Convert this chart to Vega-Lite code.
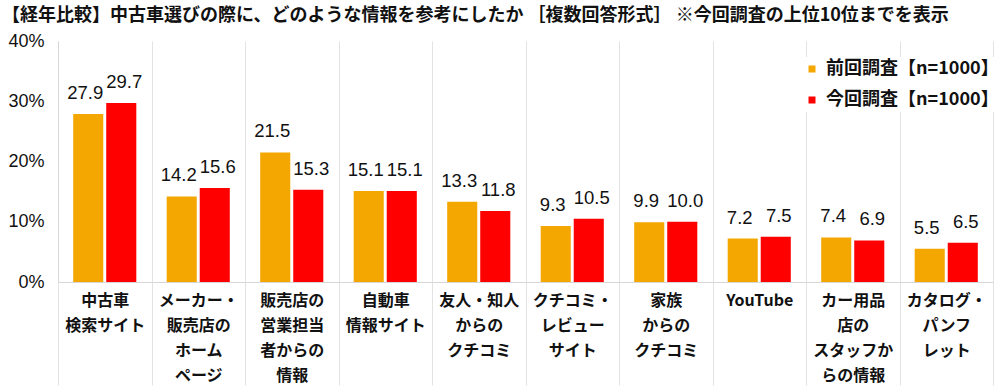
{
  "$schema": "https://vega.github.io/schema/vega-lite/v6.json",
  "width": 935,
  "height": 241,
  "autosize": {"type": "none"},
  "padding": {"left": 58, "top": 41, "right": 7, "bottom": 108},
  "background": "white",
  "config": {"view": {"stroke": null}},
  "title": {
    "text": "【経年比較】中古車選びの際に、どのような情報を参考にしたか ［複数回答形式］ ※今回調査の上位10位までを表示",
    "anchor": "start",
    "frame": "group",
    "dx": -56,
    "dy": 3,
    "font": "Noto Sans CJK JP",
    "fontSize": 18,
    "fontWeight": "bold",
    "color": "#111111",
    "offset": 10,
    "limit": 0
  },
  "data": {
    "values": [
      {"category": "中古車|検索サイト", "survey": "前回調査【n=1000】", "value": 27.9},
      {"category": "中古車|検索サイト", "survey": "今回調査【n=1000】", "value": 29.7},
      {"category": "メーカー・|販売店の|ホーム|ページ", "survey": "前回調査【n=1000】", "value": 14.2},
      {"category": "メーカー・|販売店の|ホーム|ページ", "survey": "今回調査【n=1000】", "value": 15.6},
      {"category": "販売店の|営業担当|者からの|情報", "survey": "前回調査【n=1000】", "value": 21.5},
      {"category": "販売店の|営業担当|者からの|情報", "survey": "今回調査【n=1000】", "value": 15.3},
      {"category": "自動車|情報サイト", "survey": "前回調査【n=1000】", "value": 15.1},
      {"category": "自動車|情報サイト", "survey": "今回調査【n=1000】", "value": 15.1},
      {"category": "友人・知人|からの|クチコミ", "survey": "前回調査【n=1000】", "value": 13.3},
      {"category": "友人・知人|からの|クチコミ", "survey": "今回調査【n=1000】", "value": 11.8},
      {"category": "クチコミ・|レビュー|サイト", "survey": "前回調査【n=1000】", "value": 9.3},
      {"category": "クチコミ・|レビュー|サイト", "survey": "今回調査【n=1000】", "value": 10.5},
      {"category": "家族|からの|クチコミ", "survey": "前回調査【n=1000】", "value": 9.9},
      {"category": "家族|からの|クチコミ", "survey": "今回調査【n=1000】", "value": 10.0},
      {"category": "YouTube", "survey": "前回調査【n=1000】", "value": 7.2},
      {"category": "YouTube", "survey": "今回調査【n=1000】", "value": 7.5},
      {"category": "カー用品|店の|スタッフか|らの情報", "survey": "前回調査【n=1000】", "value": 7.4},
      {"category": "カー用品|店の|スタッフか|らの情報", "survey": "今回調査【n=1000】", "value": 6.9},
      {"category": "カタログ・|パンフ|レット", "survey": "前回調査【n=1000】", "value": 5.5},
      {"category": "カタログ・|パンフ|レット", "survey": "今回調査【n=1000】", "value": 6.5}
    ]
  },
  "encoding": {
    "x": {
      "field": "category",
      "type": "nominal",
      "sort": null,
      "scale": {"paddingInner": 0, "paddingOuter": 0},
      "axis": {
        "title": null,
        "labelAngle": 0,
        "labelExpr": "split(datum.label, '|')",
        "labelFont": "Noto Sans CJK JP",
        "labelFontSize": 16,
        "labelFontWeight": "bold",
        "labelColor": "#111111",
        "labelLineHeight": 25,
        "labelBaseline": "top",
        "labelPadding": -93,
        "labelOverlap": false,
        "labelBound": false,
        "labelLimit": 0,
        "tickSize": 103,
        "tickColor": "#e3e3e3",
        "tickBand": "extent",
        "grid": true,
        "gridColor": "#e3e3e3",
        "domainColor": "#d6d6d6"
      }
    },
    "xOffset": {
      "field": "survey",
      "type": "nominal",
      "scale": {"domain": ["前回調査【n=1000】", "今回調査【n=1000】"], "paddingInner": 0.09, "paddingOuter": 0.46}
    },
    "y": {
      "field": "value",
      "type": "quantitative",
      "scale": {"domain": [0, 40], "nice": false},
      "axis": {
        "title": null,
        "values": [0, 10, 20, 30, 40],
        "labelExpr": "datum.value + '%'",
        "labelFont": "Liberation Sans",
        "labelFontSize": 18,
        "labelColor": "#111111",
        "labelPadding": 14,
        "ticks": false,
        "grid": false,
        "domainColor": "#d6d6d6"
      }
    }
  },
  "layer": [
    {
      "mark": {"type": "bar"},
      "encoding": {
        "color": {
          "field": "survey",
          "type": "nominal",
          "scale": {"domain": ["前回調査【n=1000】", "今回調査【n=1000】"], "range": ["#F4A700", "#FF0000"]},
          "legend": {
            "title": null,
            "orient": "none",
            "legendX": 742,
            "legendY": 16,
            "labelFont": "Noto Sans CJK JP",
            "labelFontSize": 18,
            "labelFontWeight": "bold",
            "labelColor": "#111111",
            "labelOffset": 5,
            "labelLimit": 0,
            "symbolType": "square",
            "symbolSize": 49,
            "symbolStrokeWidth": 0,
            "rowPadding": 13,
            "fillColor": "white",
            "padding": 3
          }
        }
      }
    },
    {
      "transform": [{"filter": "datum.survey === '前回調査【n=1000】'"}],
      "mark": {"type": "text", "baseline": "alphabetic", "dy": -15, "dx": -3, "font": "Liberation Sans", "fontSize": 18.5, "color": "#111111"},
      "encoding": {
        "text": {"field": "value", "type": "quantitative", "format": ".1f"}
      }
    },
    {
      "transform": [{"filter": "datum.survey === '今回調査【n=1000】'"}],
      "mark": {"type": "text", "baseline": "alphabetic", "dy": -15, "dx": 3, "font": "Liberation Sans", "fontSize": 18.5, "color": "#111111"},
      "encoding": {
        "text": {"field": "value", "type": "quantitative", "format": ".1f"}
      }
    }
  ]
}
